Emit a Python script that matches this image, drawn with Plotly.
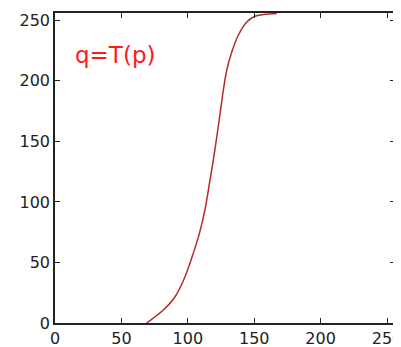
import plotly.graph_objects as go

# transfer curve q = T(p)
p = [69, 74, 81.6, 90.4, 97.9, 104.1, 109, 113, 116.7, 119.2, 121.8, 124.2,
     126.7, 129.3, 133.1, 138, 144.4, 150.6, 159.4, 167]
q = [0, 4, 10.7, 21.7, 38.2, 57.5, 75, 94, 118, 134.5, 153.7, 172,
     192, 208.7, 223.8, 237.6, 248.6, 253.3, 255, 255.5]
ticks = [0, 50, 100, 150, 200, 250]

fig = go.Figure()
fig.add_trace(go.Scatter(
    x=p, y=q, mode='lines',
    line=dict(color='#b22c2c', width=1.5, shape='spline', smoothing=0.8),
    showlegend=False,
))

fig.add_annotation(
    text='q=T(p)', x=13.5, y=221, xref='x', yref='y',
    xanchor='left', yanchor='middle', showarrow=False,
    font=dict(color='#ff1a1a', size=23, family='DejaVu Sans'),
)

axis = dict(
    range=[0, 256], tickvals=ticks, showgrid=False, zeroline=False,
    showline=True, linecolor='#222', linewidth=1.5, mirror='ticks',
    ticks='inside', ticklen=5, tickcolor='#222', automargin=False,
    ticklabeloverflow='allow',
    tickfont=dict(size=16, color='#222', family='DejaVu Sans'),
)

# page body adds an 8px margin, so the figure is 8px smaller and shifted
fig.update_layout(
    width=393, height=339,
    margin=dict(l=47, r=6, t=5, b=24),
    plot_bgcolor='white', paper_bgcolor='white',
    xaxis=axis, yaxis=axis,
)

fig.write_html('out.html')
